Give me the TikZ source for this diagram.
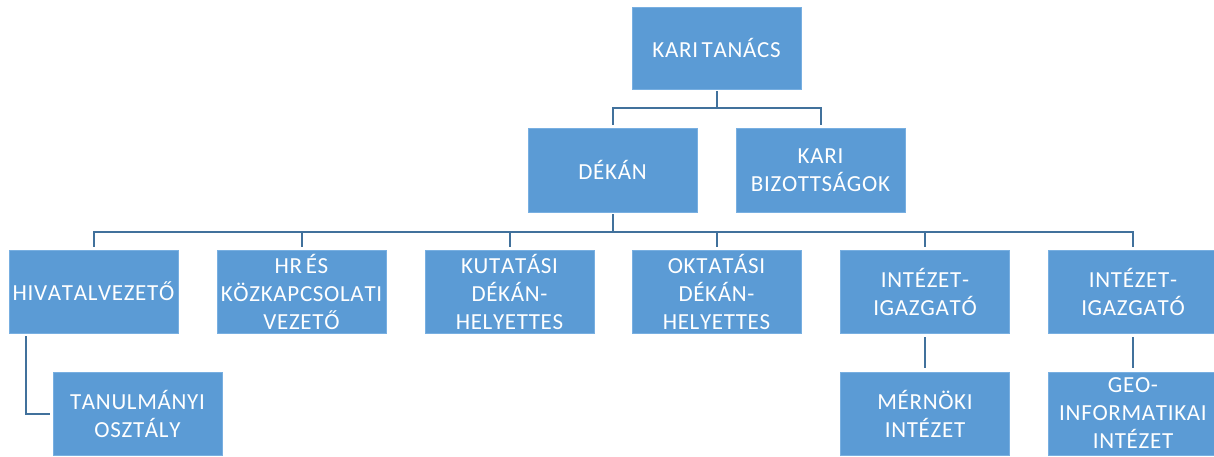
\documentclass[tikz,border=0pt]{standalone}
\usepackage{fontspec}
\setmainfont{Carlito}[Kerning=Off,LetterSpace=3,WordSpace=0.6]
\definecolor{boxblue}{RGB}{91,155,213}
\definecolor{boxedge}{RGB}{120,175,225}
\definecolor{linecol}{RGB}{65,113,156}
\begin{document}
\begin{tikzpicture}[x=1pt,y=-1pt,
  orgbox/.style={draw=boxedge, line width=0.6pt, fill=boxblue, minimum width=169pt, minimum height=83pt,
    inner sep=0pt, text=white, align=center, font=\fontsize{23}{28}\selectfont},
  conn/.style={draw=linecol, line width=2pt}]
\useasboundingbox (0,0) rectangle (1214,457);
% level 0/1
\node[orgbox, minimum height=82pt] (kt) at (716.5,48) {KARI TANÁCS};
\node[orgbox, minimum height=84pt] (dekan) at (612.5,170) {DÉKÁN};
\node[orgbox, minimum height=84pt] (kb) at (820.5,170) {KARI\\BIZOTTSÁGOK};
% level 2
\node[orgbox] (hiv) at (93.5,291.5) {HIVATALVEZETŐ};
\node[orgbox] (hr) at (301.5,291.5) {HR ÉS\\KÖZKAPCSOLATI\\VEZETŐ};
\node[orgbox] (kut) at (509.5,291.5) {KUTATÁSI\\DÉKÁN-\\HELYETTES};
\node[orgbox] (okt) at (716.5,291.5) {OKTATÁSI\\DÉKÁN-\\HELYETTES};
\node[orgbox] (ig1) at (925,291.5) {INTÉZET-\\IGAZGATÓ};
\node[orgbox] (ig2) at (1133,291.5) {INTÉZET-\\IGAZGATÓ};
% level 3
\node[orgbox] (tan) at (137.5,413.5) {TANULMÁNYI\\OSZTÁLY};
\node[orgbox] (mern) at (925,413.5) {MÉRNÖKI\\INTÉZET};
\node[orgbox] (geo) at (1133,413.5) {GEO-\\INFORMATIKAI\\INTÉZET};
% buses
\coordinate (b1) at (716.5,108);
\coordinate (b2) at (612.5,232);
% connectors
\draw[conn] ([yshift=-2pt]kt.south) -- (kt.south |- b1);
\draw[conn] ([yshift=3pt]dekan.north) |- (b1) -| ([yshift=3pt]kb.north);
\draw[conn] ([yshift=-2pt]dekan.south) -- (b2);
\draw[conn] ([yshift=3pt]hiv.north) |- (b2) -| ([yshift=3pt]ig2.north);
\draw[conn] ([yshift=3pt]hr.north) -- (hr.north |- b2);
\draw[conn] ([yshift=3pt]kut.north) -- (kut.north |- b2);
\draw[conn] ([yshift=3pt]okt.north) -- (okt.north |- b2);
\draw[conn] ([yshift=3pt]ig1.north) -- (ig1.north |- b2);
\draw[conn] ([xshift=17pt,yshift=-3pt]hiv.south west) |- ([xshift=-3pt]tan.west);
\draw[conn] ([yshift=-4pt]ig1.south) -- ([yshift=4pt]mern.north);
\draw[conn] ([yshift=-4pt]ig2.south) -- ([yshift=4pt]geo.north);
\end{tikzpicture}
\end{document}
